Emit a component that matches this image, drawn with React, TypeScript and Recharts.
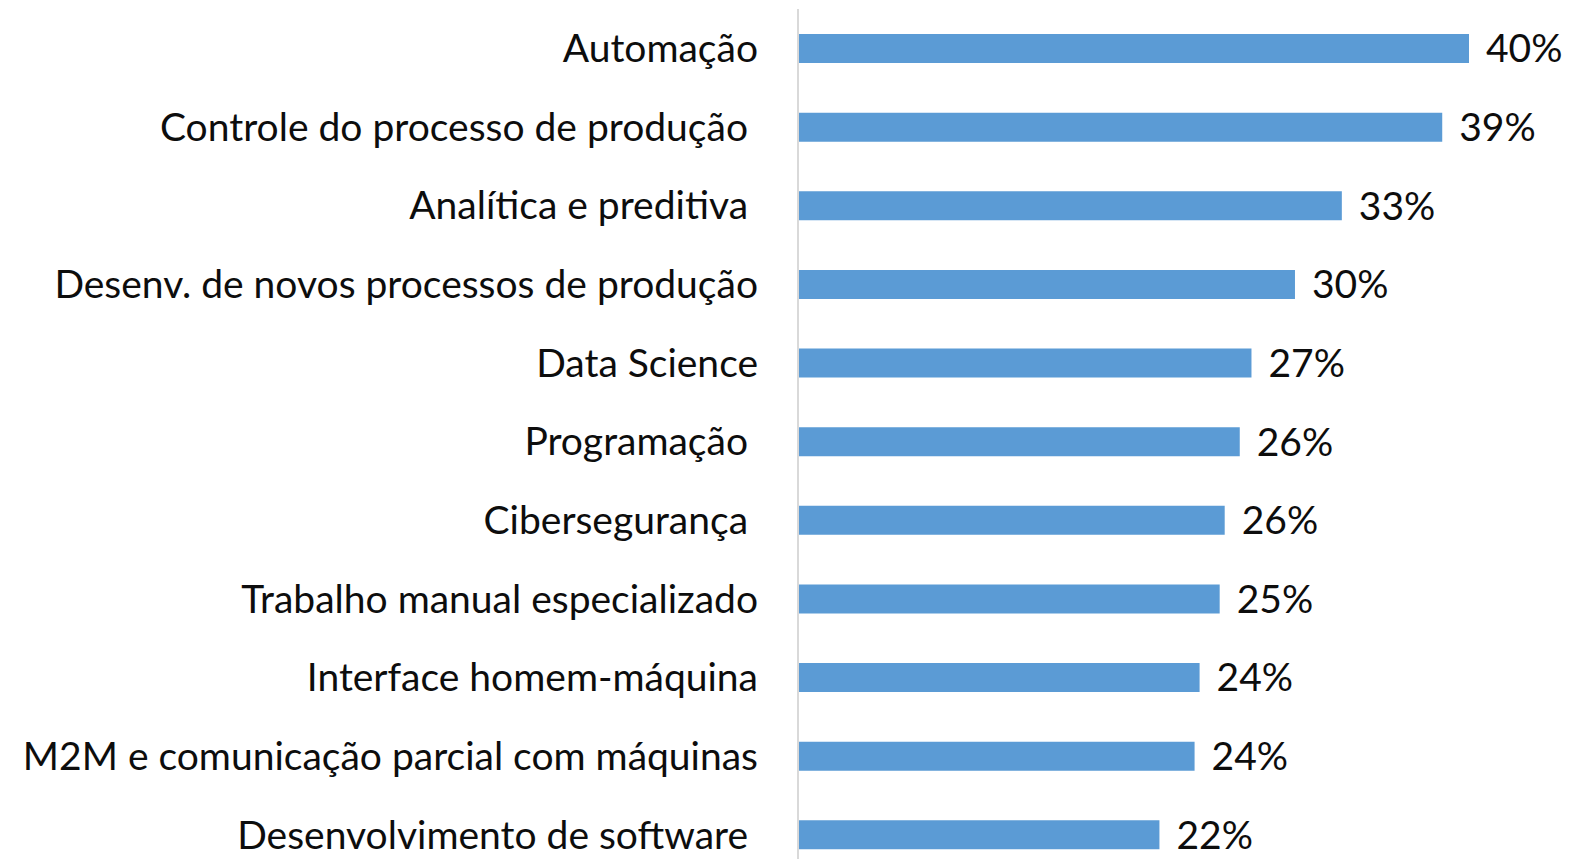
import { Bar, BarChart, LabelList, XAxis, YAxis } from "recharts";

// categories, top to bottom (trailing spaces kept as in the source labels)
const categories = [
  "Automação",
  "Controle do processo de produção\u00A0",
  "Analítica e preditiva\u00A0",
  "Desenv. de novos processos de produção",
  "Data Science",
  "Programação\u00A0",
  "Cibersegurança\u00A0",
  "Trabalho manual especializado",
  "Interface homem-máquina",
  "M2M e comunicação parcial com máquinas",
  "Desenvolvimento de software\u00A0",
];

// share of respondents, in percent
const shares = [40.1, 38.5, 32.5, 29.7, 27.1, 26.4, 25.5, 25.2, 24.0, 23.7, 21.6];

const data = categories.map((name, i) => ({ name, share: shares[i] }));

const FONT = "Lato, 'Open Sans', sans-serif";
const BAR_COLOR = "#5B9BD5";

export default function App() {
  return (
    <div style={{ width: 1570, height: 867, margin: -8, overflow: "hidden", background: "#fff" }}>
      <BarChart
        width={1570}
        height={874}
        data={data}
        layout="vertical"
        margin={{ top: 9, right: 19, bottom: 0, left: 0 }}
        barSize={29}
      >
        <XAxis type="number" hide domain={[0, 45]} />
        <YAxis
          type="category"
          dataKey="name"
          width={798}
          tickLine={false}
          tickSize={0}
          tickMargin={40}
          axisLine={{ stroke: "#D9D9D9", strokeWidth: 2 }}
          tick={{ fill: "#0d0d0d", fontSize: 39, fontFamily: FONT }}
          interval={0}
        />
        <Bar dataKey="share" fill={BAR_COLOR} isAnimationActive={false}>
          <LabelList
            dataKey="share"
            position="right"
            offset={17}
            formatter={(v: number) => `${Math.round(v)}%`}
            style={{ fill: "#0d0d0d", fontSize: 39, fontFamily: FONT }}
          />
        </Bar>
      </BarChart>
    </div>
  );
}
